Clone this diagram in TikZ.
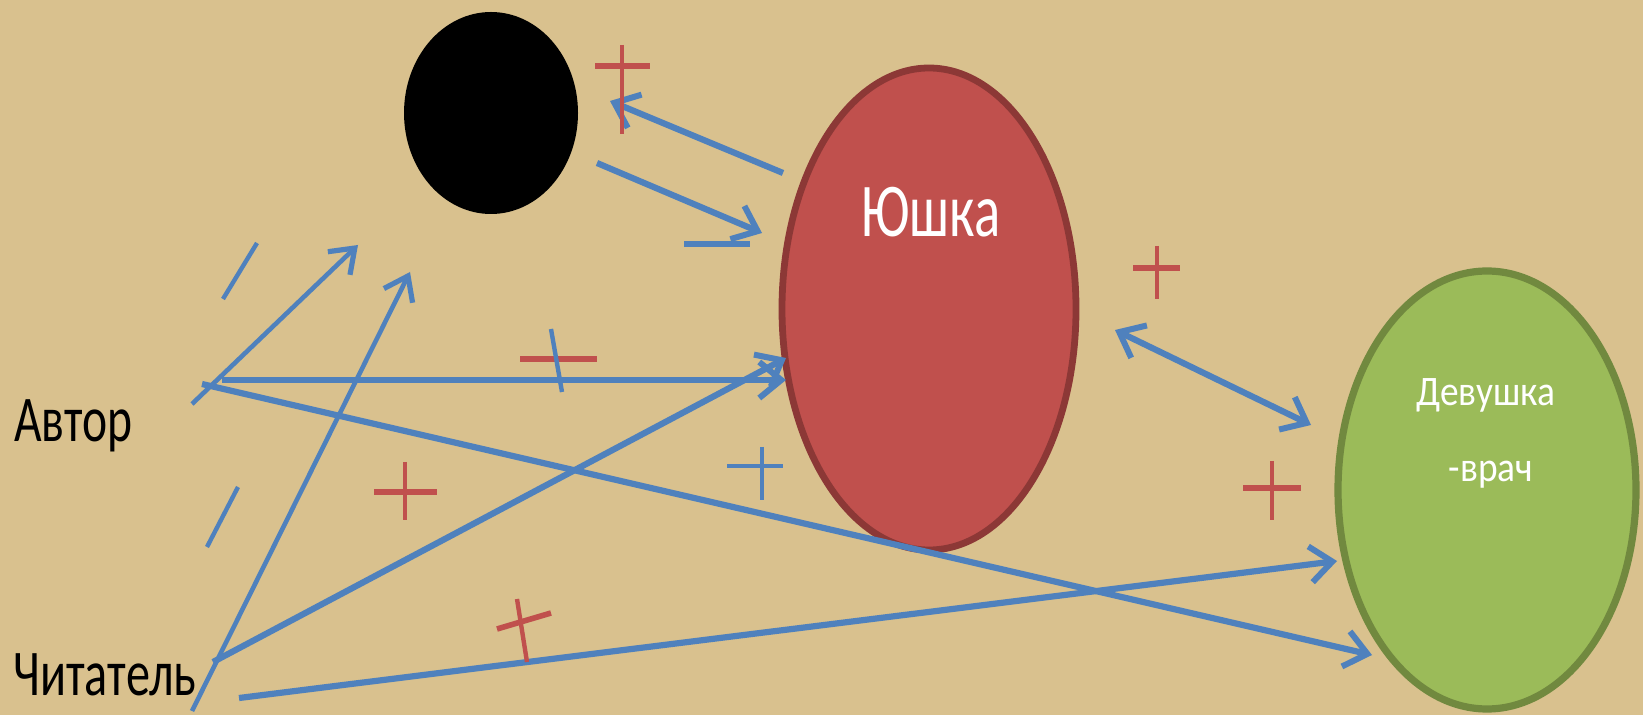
\documentclass[tikz,border=0pt]{standalone}
\usepackage{fontspec}
\setmainfont{Carlito}
\usetikzlibrary{arrows.meta,shapes.geometric}
\definecolor{bg}{RGB}{217,193,142}
\definecolor{arrowblue}{RGB}{79,129,189}
\definecolor{plusred}{RGB}{192,80,77}
\definecolor{redfill}{RGB}{192,80,77}
\definecolor{reddraw}{RGB}{140,56,54}
\definecolor{greenfill}{RGB}{155,187,89}
\definecolor{greendraw}{RGB}{113,137,63}
\tikzset{
  oval/.style={ellipse, inner sep=0pt},
  link/.style={draw=arrowblue, line width=3.1pt, -{Straight Barb[length=11pt,width=18pt,line width=3pt]}},
  thinlink/.style={draw=arrowblue, line width=2.3pt, -{Straight Barb[length=11pt,width=16pt,line width=2.6pt]}},
  redmark/.style={draw=plusred, line width=2.8pt},
  redstem/.style={draw=plusred, line width=2.2pt},
  bluemark/.style={draw=arrowblue, line width=2.2pt},
  lbl/.style={inner sep=0pt},
}
\begin{document}
\begin{tikzpicture}[x=0.5pt,y=-0.5pt]
\fill[bg] (0,0) rectangle (1643,715);
\useasboundingbox (0,0) rectangle (1643,715);

% ellipses
\node[oval, fill=black, minimum width=87pt, minimum height=101pt] (b) at (491,113) {};
\node[oval, fill=redfill, draw=reddraw, line width=3.4pt, minimum width=147pt, minimum height=241pt] (y) at (929,309) {};
\node[oval, fill=greenfill, draw=greendraw, line width=3.6pt, minimum width=149pt, minimum height=219pt] (g) at (1487,490) {};

\node[lbl, anchor=base, xscale=0.72, text=white, font=\fontsize{38}{38}\selectfont] (yt) at (931,237) {Юшка};
\node[lbl, anchor=base, xscale=0.89, text=white, font=\fontsize{21}{21}\selectfont] (gt1) at (1486,406) {Девушка};
\node[lbl, anchor=base, xscale=0.89, text=white, font=\fontsize{21}{21}\selectfont] (gt2) at (1491,482) {-врач};

\node[lbl, anchor=base west, xscale=0.73, font=\fontsize{32.6}{32.6}\selectfont] (a) at (14,442) {Автор};
\node[lbl, anchor=base west, xscale=0.74, font=\fontsize{32.6}{32.6}\selectfont] (c) at (13,695) {Читатель};

% endpoints
\coordinate (a0) at (202,384);
\coordinate (a2) at (222,380);
\coordinate (a1) at (192,404);
\coordinate (c0) at (213,662);
\coordinate (c1) at (192,711);
\coordinate (c2) at (239,698);
\coordinate (bt1) at (358,245);
\coordinate (bt2) at (410,272);
\coordinate (br1) at (610,101);
\coordinate (br2) at (597,163);
\coordinate (yl1) at (783,173);
\coordinate (yl2) at (762,233);
\coordinate (yl3) at (786,380);
\coordinate (yl4) at (786,358);
\coordinate (yr) at (1115,330);
\coordinate (gl1) at (1311,425);
\coordinate (gl2) at (1337,561);
\coordinate (gl3) at (1372,655);
\coordinate (h1) at (684,244);
\coordinate (h2) at (750,244);

% connectors
\draw[link] (yl1) -- (br1);
\draw[link] (br2) -- (yl2);
\draw[draw=arrowblue, line width=3.1pt] (h1) -- (h2);
\draw[thinlink] (a1) -- (bt1);
\draw[thinlink] (c1) -- (bt2);
\draw[link] (a2) -- (yl3);
\draw[link] (a0) -- (gl3);
\draw[link] (c0) -- (yl4);
\draw[link] (c2) -- (gl2);
\draw[link, {Straight Barb[length=11pt,width=18pt,line width=3pt]}-{Straight Barb[length=11pt,width=18pt,line width=3pt]}] (yr) -- (gl1);

% marks
\draw[redmark] (595,66) -- (650,66);
\draw[redstem] (622,45) -- (622,134);
\draw[redmark] (1133,268) -- (1180,268);
\draw[redstem] (1157,246) -- (1157,299);
\draw[redmark] (1243,488) -- (1301,488);
\draw[redstem] (1272,461) -- (1272,520);
\draw[redmark] (374,492) -- (437,492);
\draw[redstem] (405,462) -- (405,520);
\draw[redmark] (520,359) -- (597,359);
\draw[bluemark] (551,329) -- (562,392);
\draw[bluemark] (727,466) -- (783,466);
\draw[bluemark] (762,447) -- (762,500);
\draw[redmark] (497,629) -- (551,613);
\draw[redstem] (517,599) -- (527,662);
\draw[bluemark] (257,243) -- (223,299);
\draw[bluemark] (238,487) -- (207,547);
\end{tikzpicture}
\end{document}
